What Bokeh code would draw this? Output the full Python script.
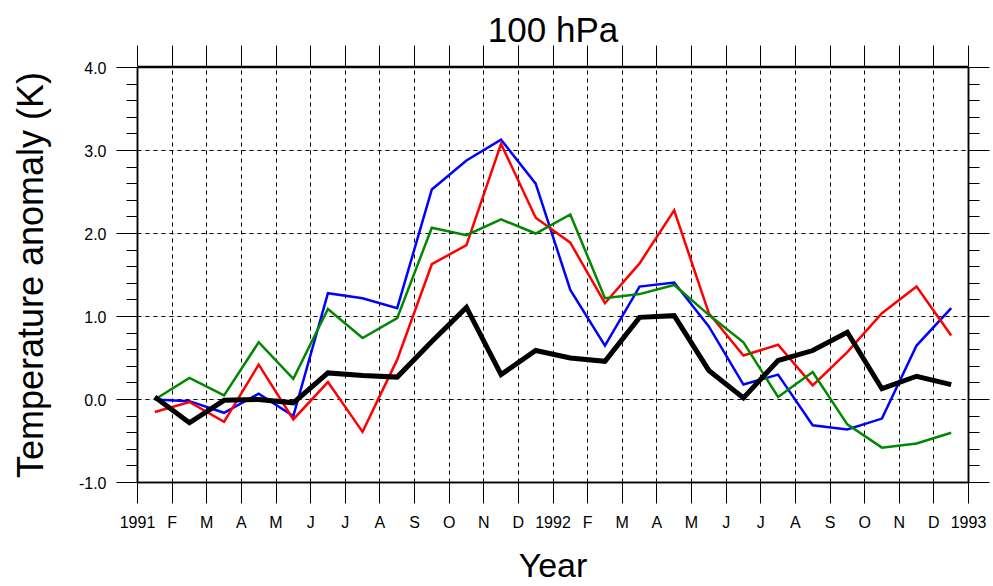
import numpy as np
from bokeh.plotting import figure
from bokeh.models import Range1d, FixedTicker, LinearAxis, Grid
from bokeh.embed import file_html
from bokeh.resources import INLINE

# ---- data ----
tick_labels = ["1991", "F", "M", "A", "M", "J", "J", "A", "S", "O", "N", "D",
               "1992", "F", "M", "A", "M", "J", "J", "A", "S", "O", "N", "D", "1993"]

black_vals = [0.03, -0.28, -0.01, 0.00, -0.04, 0.32, 0.29, 0.27, 0.70, 1.11, 0.30, 0.59,
              0.50, 0.46, 0.99, 1.01, 0.35, 0.02, 0.47, 0.59, 0.81, 0.13, 0.28, 0.18]
blue_vals = [0.00, -0.02, -0.16, 0.07, -0.20, 1.28, 1.22, 1.10, 2.53, 2.88, 3.13, 2.60,
             1.32, 0.65, 1.36, 1.41, 0.88, 0.18, 0.30, -0.31, -0.36, -0.23, 0.65, 1.10]
red_vals = [-0.15, -0.03, -0.27, 0.42, -0.24, 0.21, -0.39, 0.48, 1.63, 1.86, 3.08, 2.19,
            1.89, 1.16, 1.64, 2.28, 1.04, 0.53, 0.66, 0.17, 0.57, 1.04, 1.36, 0.77]
green_vals = [0.00, 0.26, 0.05, 0.69, 0.25, 1.09, 0.74, 0.98, 2.07, 1.98, 2.17, 2.00,
              2.23, 1.22, 1.27, 1.38, 1.02, 0.69, 0.03, 0.33, -0.30, -0.58, -0.53, -0.40]

y_ticks = [-1.0, 0.0, 1.0, 2.0, 3.0, 4.0]
y_tick_labels = ["-1.0", "0.0", "1.0", "2.0", "3.0", "4.0"]

FONT = "Liberation Sans"

x = np.arange(len(black_vals)) + 0.5
x_ticks = list(range(len(tick_labels)))
y_minor = [round(v, 1) for v in np.arange(-1.0, 4.0001, 0.2)]

p = figure(width=993, height=586, output_backend="svg", toolbar_location=None,
           x_range=Range1d(0, 24), y_range=Range1d(-1, 4),
           x_axis_location=None, y_axis_location=None,
           min_border_left=137, min_border_right=25, min_border_top=67,
           min_border_bottom=102)
p.background_fill_color = "white"
p.border_fill_color = "white"
p.outline_line_color = "black"
p.outline_line_width = 1.5


def make_axis(kind, labels):
    ax = LinearAxis()
    if kind == "x":
        ax.ticker = FixedTicker(ticks=x_ticks)
        ax.major_label_overrides = {i: t for i, t in enumerate(tick_labels)}
        ax.minor_tick_line_color = None
    else:
        ax.ticker = FixedTicker(ticks=y_ticks, minor_ticks=y_minor)
        ax.major_label_overrides = {v: t for v, t in zip(y_ticks, y_tick_labels)}
        ax.minor_tick_out = 11
        ax.minor_tick_in = 0
        ax.minor_tick_line_color = "black"
        ax.minor_tick_line_width = 1
    ax.major_tick_out = 21
    ax.major_tick_in = 0
    ax.major_tick_line_color = "black"
    ax.major_tick_line_width = 1
    ax.axis_line_color = "black"
    ax.axis_line_width = 1.5
    ax.major_label_text_font = FONT
    if labels:
        ax.major_label_text_color = "black"
        ax.major_label_text_font_size = "16px"
        ax.major_label_standoff = 10
    else:
        # mirrored axis: ticks only, labels not drawn
        ax.major_label_text_color = None
        ax.major_label_text_font_size = "0px"
        ax.major_label_standoff = 0
    return ax


bottom = make_axis("x", True)
bottom.axis_label = "Year"
bottom.axis_label_text_font = FONT
bottom.axis_label_text_font_size = "34px"
bottom.axis_label_text_font_style = "normal"
bottom.axis_label_text_color = "black"
bottom.axis_label_standoff = 12
p.add_layout(bottom, "below")

# thin invisible spacer between frame and the mirrored top axis
spacer = LinearAxis(ticker=FixedTicker(ticks=x_ticks))
spacer.axis_line_color = None
spacer.major_tick_line_color = None
spacer.minor_tick_line_color = None
spacer.major_tick_out = 1
spacer.major_tick_in = 0
spacer.minor_tick_out = 0
spacer.minor_tick_in = 0
spacer.major_label_text_color = None
spacer.major_label_text_font_size = "0px"
spacer.major_label_standoff = 0
p.add_layout(spacer, "above")

# top axis carries the title as its label
top = make_axis("x", False)
top.axis_label = "100 hPa"
top.axis_label_text_font = FONT
top.axis_label_text_font_size = "35px"
top.axis_label_text_font_style = "normal"
top.axis_label_text_color = "black"
top.axis_label_standoff = -3
p.add_layout(top, "above")

left = make_axis("y", True)
left.axis_label = "Temperature anomaly (K)"
left.axis_label_text_font = FONT
left.axis_label_text_font_size = "36px"
left.axis_label_text_font_style = "normal"
left.axis_label_text_color = "black"
left.axis_label_standoff = 25
p.add_layout(left, "left")

right = make_axis("y", False)
p.add_layout(right, "right")

# grid
gx = Grid(dimension=0, ticker=FixedTicker(ticks=x_ticks), grid_line_color="black",
          grid_line_dash="4 4", grid_line_width=1)
gy = Grid(dimension=1, ticker=FixedTicker(ticks=y_ticks), grid_line_color="black",
          grid_line_dash="4 4", grid_line_width=1)
p.add_layout(gx)
p.add_layout(gy)

p.line(x, blue_vals, line_color="#0000ff", line_width=2.5, line_join="miter")
p.line(x, red_vals, line_color="#ff0000", line_width=2.5, line_join="miter")
p.line(x, green_vals, line_color="#008800", line_width=2.5, line_join="miter")
p.line(x, black_vals, line_color="black", line_width=5, line_join="miter")

open("out.html", "w").write(file_html(p, INLINE))
